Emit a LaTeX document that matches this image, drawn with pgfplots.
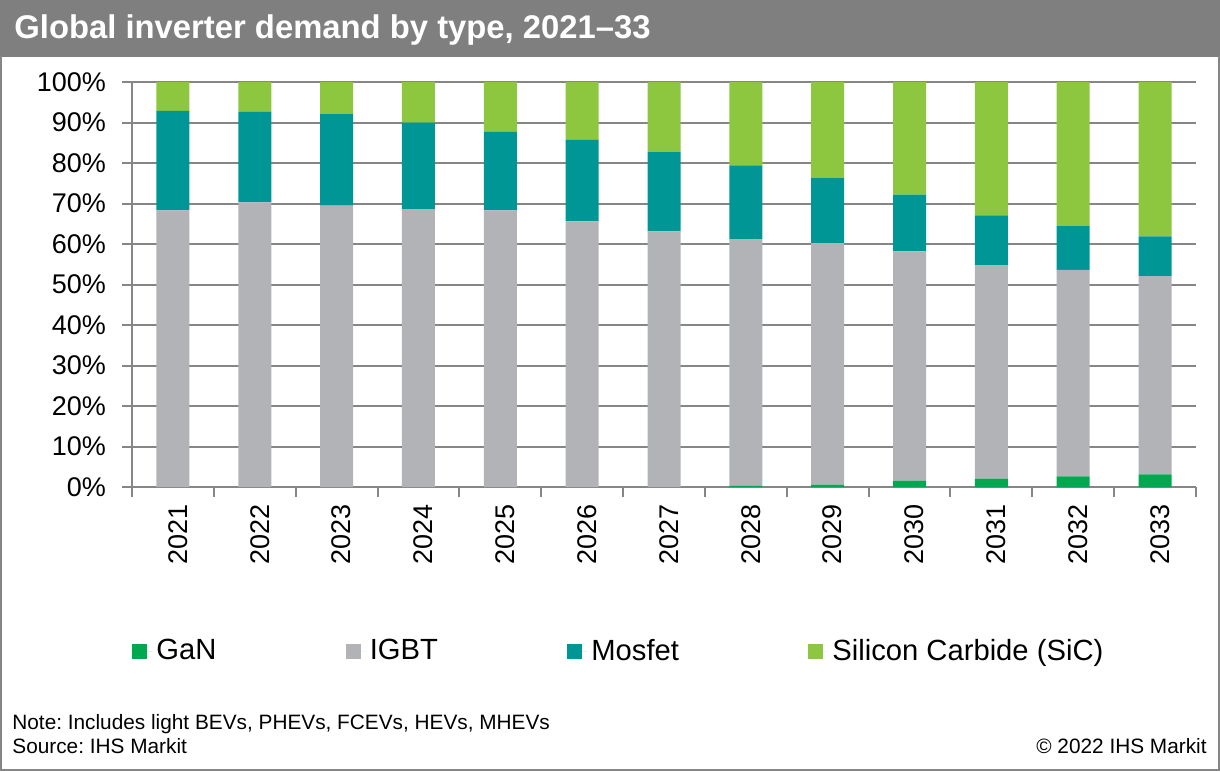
\documentclass[border=0pt]{standalone}
\usepackage{pgfplots}
\pgfplotsset{compat=1.18}
\usepackage{pgfplotstable}
\usepackage{fontspec}
\setmainfont{Liberation Sans}
\definecolor{ganc}{HTML}{00A84F}
\definecolor{igbtc}{HTML}{B1B3B6}
\definecolor{mosc}{HTML}{009696}
\definecolor{sicc}{HTML}{8DC63F}
\definecolor{axgray}{HTML}{868686}
\definecolor{titlegray}{HTML}{7F7F7F}
\pgfplotstableread{
x GaN IGBT Mosfet SiC
0  0.0 68.3 24.6  7.1
1  0.0 70.3 22.3  7.4
2  0.0 69.5 22.6  7.9
3  0.0 68.6 21.4 10.0
4  0.0 68.3 19.4 12.3
5  0.0 65.6 20.1 14.3
6  0.0 63.1 19.7 17.2
7  0.3 60.9 18.2 20.6
8  0.6 59.6 16.2 23.6
9  1.6 56.6 14.0 27.8
10 2.1 52.7 12.3 32.9
11 2.6 51.0 10.8 35.6
12 3.1 49.0  9.8 38.1
}\datatable
\begin{document}
\frenchspacing
\begin{tikzpicture}
\useasboundingbox (0,0) rectangle (610pt,-385.5pt);
\fill[titlegray] (0,0) rectangle (610pt,-28.5pt);
\draw[axgray, line width=1pt] (0.5pt,-28pt) -- (0.5pt,-385pt) -- (609.5pt,-385pt) -- (609.5pt,-28pt);
\node[anchor=base west, inner sep=0pt, text=white, font=\fontsize{16.4}{19}\selectfont\bfseries] at (7pt,-19.5pt) {Global inverter demand by type, 2021--33};
\begin{axis}[
  at={(66pt,-243.5pt)}, anchor=south west,
  scale only axis, width=532pt, height=202.5pt,
  ybar stacked, bar width=16.5pt,
  xmin=-0.5, xmax=12.5, ymin=0, ymax=100,
  axis x line*=bottom, axis y line*=left,
  axis line style={-, draw=axgray, line width=1pt},
  xtick={-0.5,0.5,1.5,2.5,3.5,4.5,5.5,6.5,7.5,8.5,9.5,10.5,11.5,12.5},
  x tick label as interval,
  xticklabels={2021,2022,2023,2024,2025,2026,2027,2028,2029,2030,2031,2032,2033},
  xticklabel style={rotate=90, anchor=east, yshift=-2.5pt, font=\fontsize{13.5}{16}\selectfont},
  ytick={0,10,...,100},
  yticklabels={0\%,10\%,20\%,30\%,40\%,50\%,60\%,70\%,80\%,90\%,100\%},
  yticklabel style={xshift=-4.5pt, font=\fontsize{13.5}{16}\selectfont},
  tick align=outside, major tick length=5pt,
  tick style={draw=axgray, line width=1pt},
  ymajorgrids, grid style={draw=axgray, line width=1pt},
  /pgf/number format/assume math mode=true,
  legend columns=4,
  legend style={at={(0.0,-0.405)}, anchor=west, draw=none, fill=none, inner sep=0pt,
    font=\fontsize{14.6}{17}\selectfont,
    /tikz/every even column/.append style={column sep=62.7pt}},
  legend image code/.code={\path (0pt,0pt) -- (10pt,0pt);\fill[#1] (0pt,-3.75pt) rectangle (7.5pt,3.75pt);},
]
\addplot[fill=ganc, draw=none] table[x=x, y=GaN] {\datatable};
\addplot[fill=igbtc, draw=none] table[x=x, y=IGBT] {\datatable};
\addplot[fill=mosc, draw=none] table[x=x, y=Mosfet] {\datatable};
\addplot[fill=sicc, draw=none] table[x=x, y=SiC] {\datatable};
\legend{GaN, IGBT, Mosfet, Silicon Carbide (SiC)}
\end{axis}
\node[anchor=base west, inner sep=0pt, font=\fontsize{10.4}{12}\selectfont] at (6pt,-364.5pt) {Note: Includes light BEVs, PHEVs, FCEVs, HEVs, MHEVs};
\node[anchor=base west, inner sep=0pt, font=\fontsize{10.4}{12}\selectfont] at (6pt,-376.5pt) {Source: IHS Markit};
\node[anchor=base east, inner sep=0pt, font=\fontsize{10.4}{12}\selectfont] at (603.5pt,-376.5pt) {© 2022 IHS Markit};
\end{tikzpicture}
\end{document}
